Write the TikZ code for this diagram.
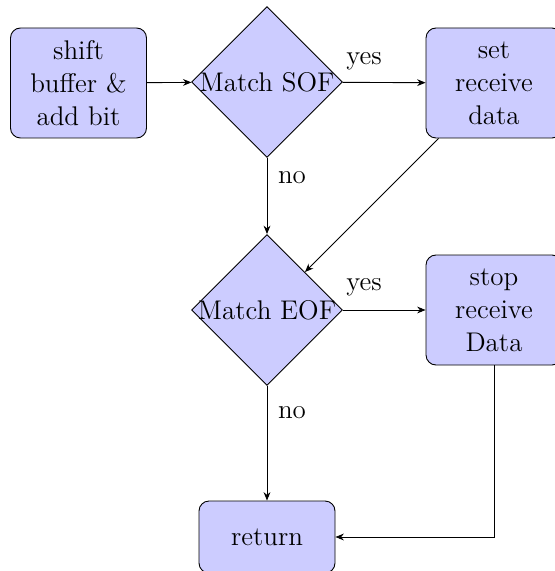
\documentclass[tikz,border=0pt]{standalone}
\usetikzlibrary{shapes.geometric,arrows.meta}
\newcommand{\dectext}[1]{\makebox[0pt]{#1}}
\begin{document}
\begin{tikzpicture}[x=0.5pt,y=-0.5pt,
  font=\fontsize{13.5}{16.5}\selectfont,
  line width=0.45pt,
  >={Stealth[length=4.2pt,width=3.4pt]},
  block/.style={draw, fill=blue!20, rounded corners=5pt, align=center,
    text width=62pt, minimum width=68pt, minimum height=55pt, inner sep=2pt},
  decision/.style={draw, fill=blue!20, diamond, aspect=1, inner sep=0pt,
    minimum width=75.5pt, minimum height=75.5pt},
  lbl/.style={inner sep=0pt}]
  \useasboundingbox (0,0) rectangle (554,571);

  % process steps and decisions
  \node[block] (shift) at (78.5,83) {shift\\buffer \&\\add bit};
  \node[decision] (sof) at (267,82) {\dectext{Match SOF}};
  \node[block] (set) at (494,83) {set\\receive\\data};
  \node[decision] (eof) at (267,310) {\dectext{Match EOF}};
  \node[block] (stop) at (494,310) {stop\\receive\\Data};
  \node[block, minimum height=36pt] (ret) at (267,537) {return};

  % connectors
  \draw[->] (shift) -- (sof);
  \draw[->] (sof) -- (set);
  \draw[->] (sof) -- (eof);
  \draw[->] (set) -- (eof);
  \draw[->] (eof) -- (stop);
  \draw[->] (eof) -- (ret);
  \draw[->] (stop) |- (ret);

  % branch labels
  \node[lbl] (ys) at (364,61) {yes};
  \node[lbl] (ns) at (292,178) {no};
  \node[lbl] (ye) at (364,287) {yes};
  \node[lbl] (ne) at (292,413) {no};
\end{tikzpicture}
\end{document}
